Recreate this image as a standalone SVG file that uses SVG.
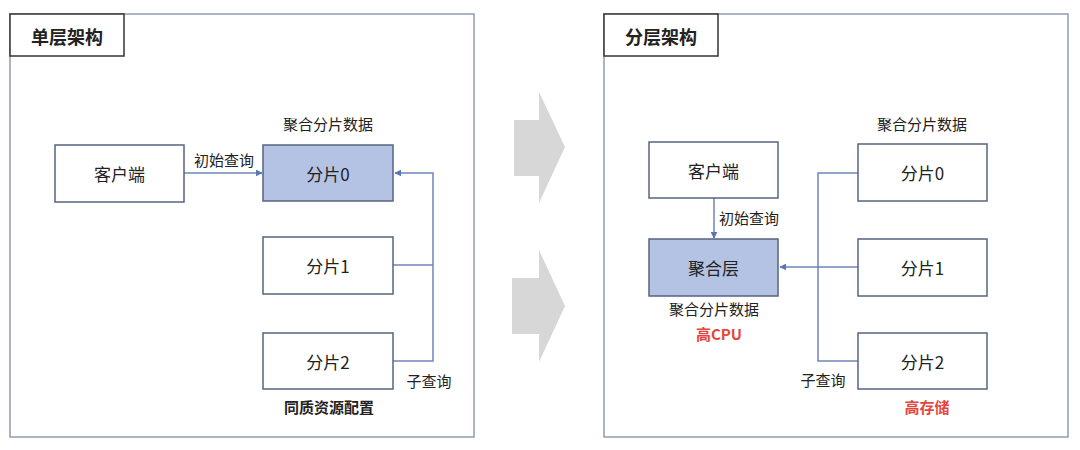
<svg xmlns="http://www.w3.org/2000/svg" width="1080" height="450" viewBox="0 0 1080 450">
<defs>
<style>
.frame{fill:#fff;stroke:#8f9cb3;stroke-width:1.5}
.title{fill:#fff;stroke:#333;stroke-width:1.5}
.node{fill:#fff;stroke:#55647f;stroke-width:1.5}
.hl{fill:#b4c3e3;stroke:#55647f;stroke-width:1.5}
.conn{fill:none;stroke:#6f86ba;stroke-width:1.5}
.big{fill:#c9c9c9;opacity:0.75}
text{font-family:"Noto Sans CJK SC","Liberation Sans",sans-serif;fill:#222;text-anchor:middle;dominant-baseline:central}
.tt{font-size:18px;font-weight:bold}
.nt{font-size:17px}
.lb{font-size:15px}
.bd{font-size:15px;font-weight:bold}
.red{font-size:15px;font-weight:bold;fill:#e5463c}
</style>
<marker id="ah" viewBox="0 0 10 10" refX="9" refY="5" markerWidth="7" markerHeight="7" markerUnits="userSpaceOnUse" orient="auto">
<path d="M0,0 L10,5 L0,10 z" fill="#5a74b6"/>
</marker>
</defs>
<rect width="1080" height="450" fill="#fff"/>

<g id="left-panel">
<rect class="frame" x="10" y="14" width="464" height="423"/>
<rect class="title" x="10" y="14" width="114" height="42"/>
<text class="tt" x="67" y="36">单层架构</text>
</g>

<g id="right-panel">
<rect class="frame" x="604" y="14" width="464" height="423"/>
<rect class="title" x="604" y="14" width="114" height="42"/>
<text class="tt" x="661" y="36">分层架构</text>
</g>

<g id="transition-arrows">
<polygon class="big" points="514,120 539,120 539,92 565,147 539,203 539,176 514,176"/>
<polygon class="big" points="512,278 539,278 539,250 565,306 539,362 539,334 512,334"/>
</g>

<g id="connectors">
<line class="conn" x1="184" y1="173" x2="262" y2="173" marker-end="url(#ah)"/>
<path class="conn" d="M393,265 H433 M393,361 H433 V173 H395" marker-end="url(#ah)"/>
<line class="conn" x1="714" y1="198" x2="714" y2="238" marker-end="url(#ah)"/>
<path class="conn" d="M858,173 H818 V361 H858 M858,267 H780" marker-end="url(#ah)"/>
</g>

<g id="l-client">
<rect class="node" x="55" y="145" width="129" height="57"/>
<text class="nt" x="119.5" y="173.5">客户端</text>
</g>
<g id="l-shard0">
<rect class="hl" x="263" y="145" width="130" height="56"/>
<text class="nt" x="328" y="173">分片0</text>
</g>
<g id="l-shard1">
<rect class="node" x="263" y="237" width="130" height="57"/>
<text class="nt" x="328" y="265.5">分片1</text>
</g>
<g id="l-shard2">
<rect class="node" x="263" y="333" width="130" height="56"/>
<text class="nt" x="328" y="361">分片2</text>
</g>
<g id="l-labels">
<text class="lb" x="328" y="123">聚合分片数据</text>
<text class="lb" x="224" y="159">初始查询</text>
<text class="lb" x="429" y="380">子查询</text>
<text class="bd" x="329" y="406">同质资源配置</text>
</g>

<g id="r-client">
<rect class="node" x="649" y="142" width="129" height="56"/>
<text class="nt" x="713.5" y="170">客户端</text>
</g>
<g id="r-agg">
<rect class="hl" x="649" y="239" width="129" height="57"/>
<text class="nt" x="713.5" y="267.5">聚合层</text>
</g>
<g id="r-shard0">
<rect class="node" x="858" y="144" width="129" height="57"/>
<text class="nt" x="922.5" y="172.5">分片0</text>
</g>
<g id="r-shard1">
<rect class="node" x="858" y="239" width="129" height="57"/>
<text class="nt" x="922.5" y="267.5">分片1</text>
</g>
<g id="r-shard2">
<rect class="node" x="858" y="333" width="129" height="56"/>
<text class="nt" x="922.5" y="361">分片2</text>
</g>
<g id="r-labels">
<text class="lb" x="922" y="123">聚合分片数据</text>
<text class="lb" x="749" y="217">初始查询</text>
<text class="lb" x="714" y="308">聚合分片数据</text>
<text class="red" x="719" y="333">高CPU</text>
<text class="lb" x="823" y="379">子查询</text>
<text class="red" x="927" y="406">高存储</text>
</g>
</svg>
